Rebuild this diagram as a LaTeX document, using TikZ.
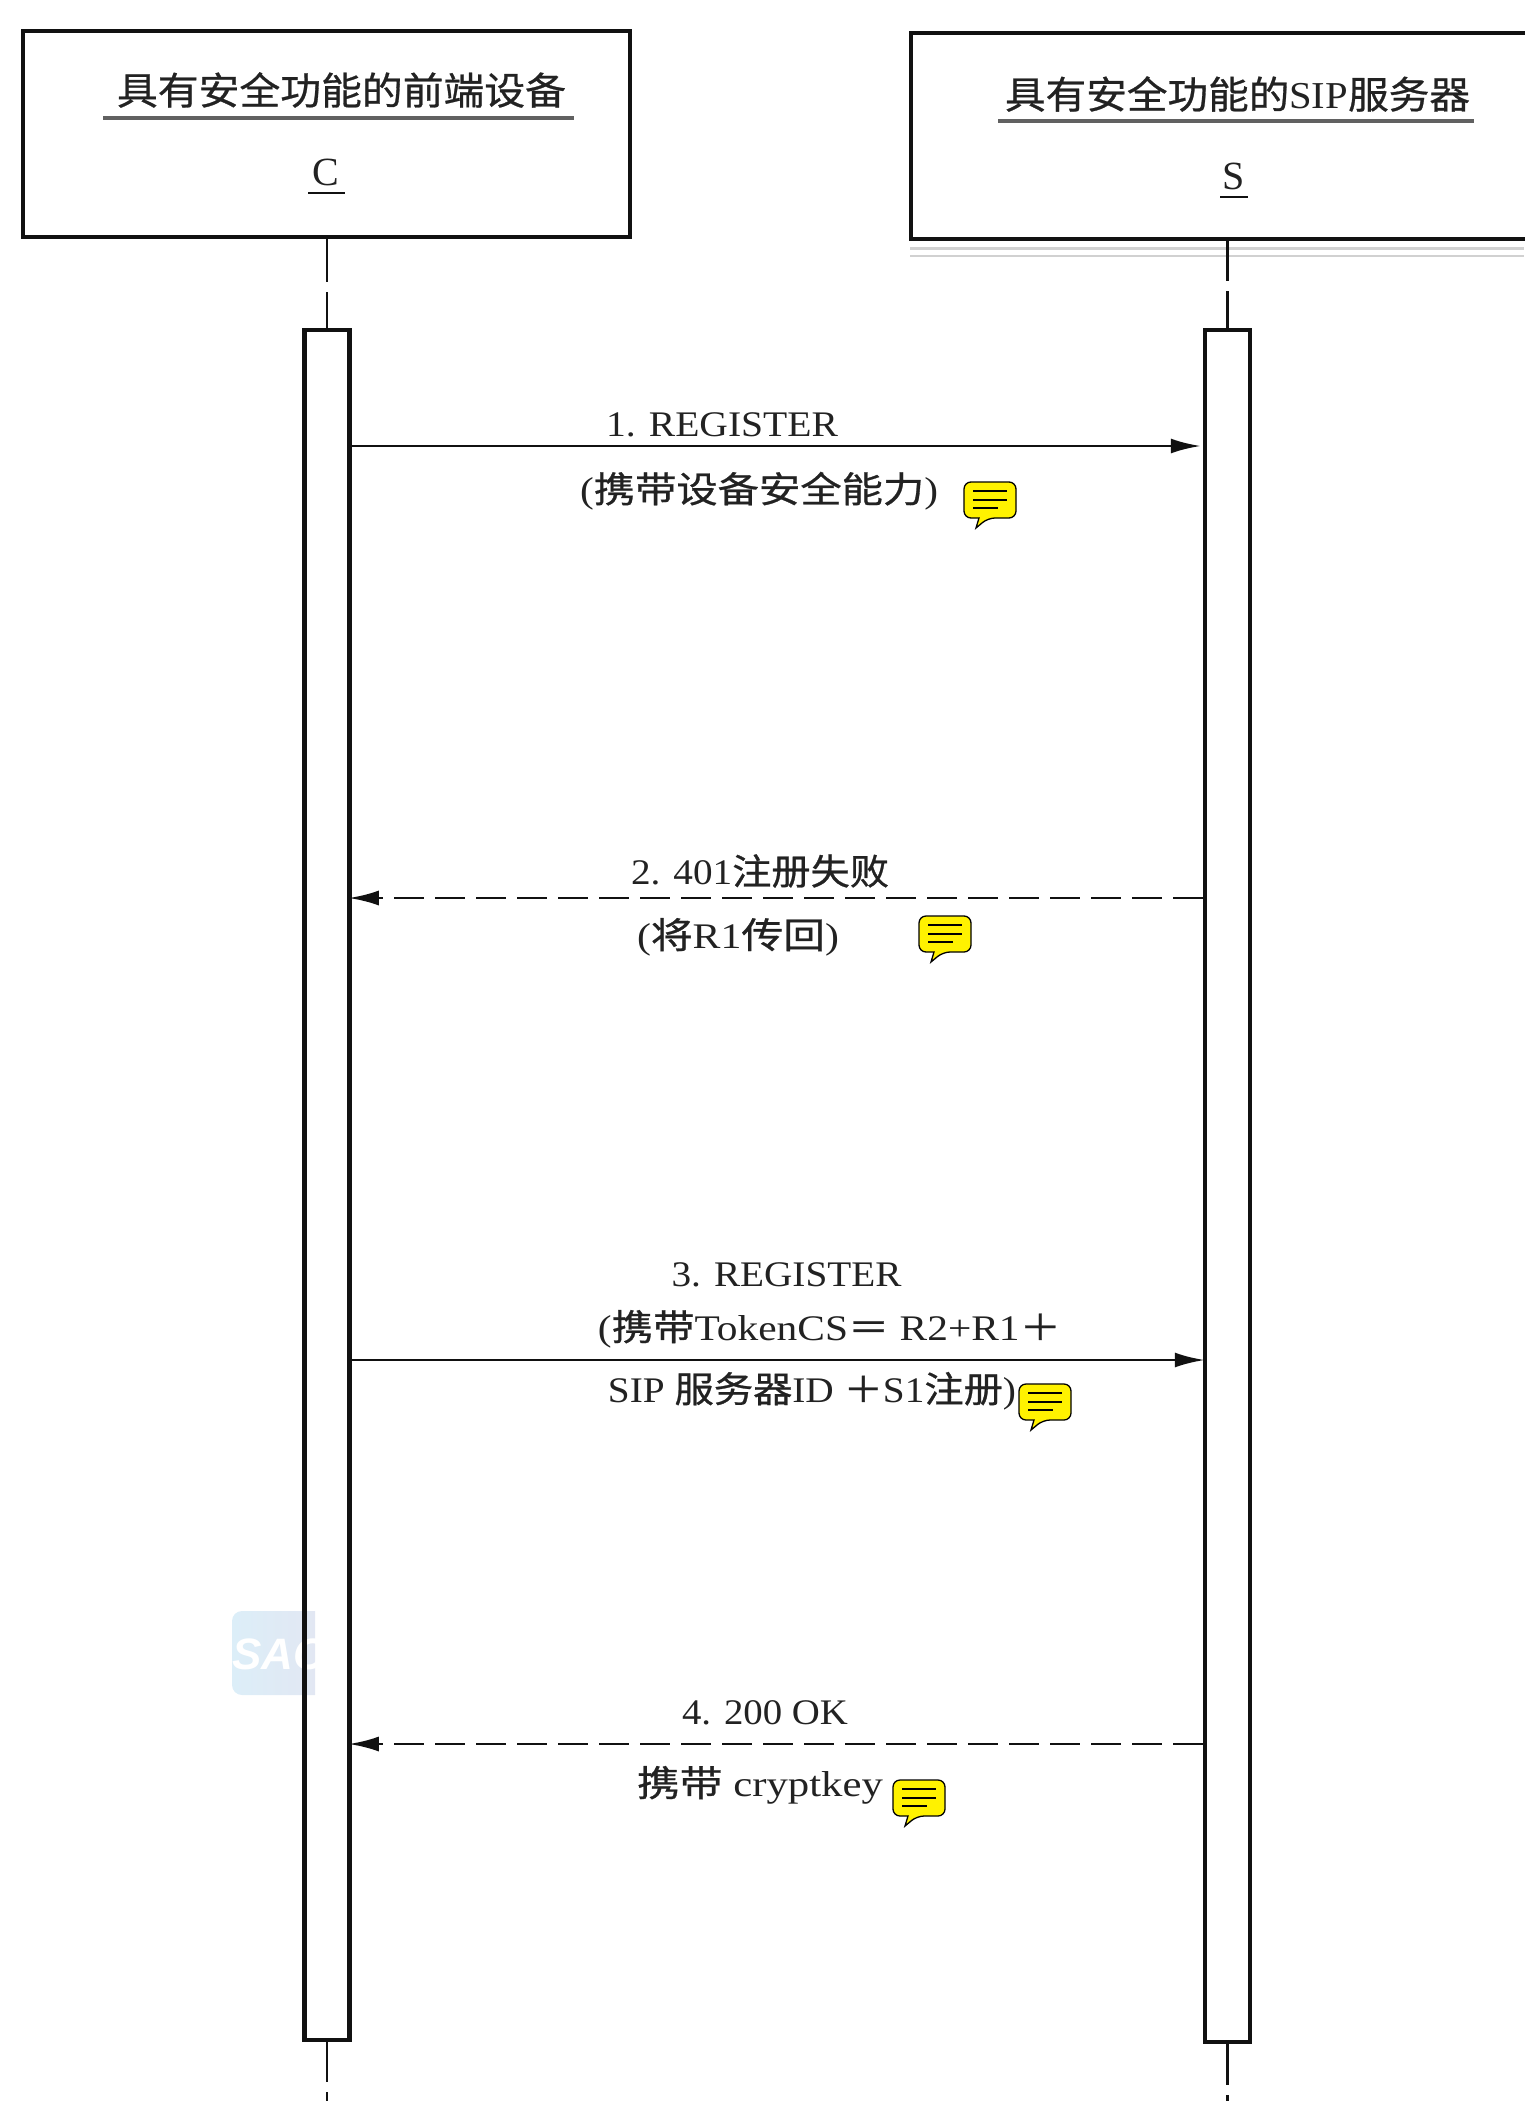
\documentclass[tikz,border=0pt]{standalone}
\usepackage{fontspec}
\usepackage{graphicx}
\usetikzlibrary{arrows.meta,calc,shapes.misc}
\setmainfont{Liberation Serif}
\newfontfamily\cjk[FakeBold=0.7]{Noto Sans CJK SC}
\newfontfamily\wm{Liberation Sans}
\newcommand{\Cn}[1]{{\cjk #1}}
\newcommand{\fitw}[2]{\resizebox{#1pt}{\height}{#2}}
\definecolor{ink}{HTML}{111111}
\definecolor{txt}{HTML}{222222}
\definecolor{wmA}{HTML}{DCEEF8}
\definecolor{wmB}{HTML}{E3E6F2}
\tikzset{
  actor/.style={draw=ink,line width=4.5pt,inner sep=0pt,rectangle},
  activation/.style={draw=ink,line width=4.5pt,inner sep=0pt,rectangle},
  lbl/.style={inner sep=0pt,text=txt,font=\fontsize{36}{40}\selectfont},
  titlelbl/.style={inner sep=0pt,text=txt,font=\fontsize{38}{42}\selectfont},
  lifeline/.style={draw=ink,line width=2.8pt},
  sync/.style={draw=ink,line width=2.8pt,-{Latex[length=30pt,width=15pt]}},
  reply/.style={draw=ink,line width=2.8pt,dash pattern=on 30pt off 11pt,-{Latex[length=30pt,width=15pt]}},
  rule/.style={draw=black!62,line width=4pt},
  thinrule/.style={draw=ink,line width=2.4pt},
  notebubble/.pic={
    \draw[fill=yellow,draw=black,line width=1.3pt,rounded corners=7pt]
      (0,18)--(0,0)--(52,0)--(52,36)--(24,36)[sharp corners]--(12,46)--(15,36)[rounded corners=7pt]--(0,36)--cycle;
    \draw[black,line width=1.2pt] (9,9)--(43,9) (9,18)--(43,18) (9,26)--(34,26);
  }
}
\begin{document}
\begin{tikzpicture}[x=1pt,y=-1pt]
\useasboundingbox (0,0) rectangle (1524,2101);
% watermark
\begin{scope}
  \clip (232,1611) rectangle (315,1695);
  \shade[left color=wmA,right color=wmB,rounded corners=10pt] (232,1695) -- (232,1611) -- (330,1611) -- (330,1695) -- cycle;
  \node[inner sep=0pt,anchor=west,text=white,font=\wm\bfseries\itshape\fontsize{44}{46}\selectfont] (wmark) at (232,1654) {SAC};
\end{scope}
% actors
\node[actor,minimum width=607pt,minimum height=206pt] (boxC) at (326.5,134) {};
\node[actor,minimum width=628pt,minimum height=206pt] (boxS) at (1225,136) {};
\draw[draw=black!18,line width=3pt] (910,248) -- (1524,248);
\draw[draw=black!18,line width=1.5pt] (910,256) -- (1524,256);
\node[titlelbl] (titleC) at (341.5,90) {\fitw{449}{\Cn{具有安全功能的前端设备}}};
\node[titlelbl] (titleS) at (1237.5,94) {\fitw{465}{\Cn{具有安全功能的}SIP\Cn{服务器}}};
\draw[rule] (103,118) -- (574,118);
\draw[rule] (998,121) -- (1474,121);
\node[lbl,font=\fontsize{40}{44}\selectfont] (nameC) at (326,172.5) {C};
\node[lbl,font=\fontsize{40}{44}\selectfont] (nameS) at (1234,176) {S};
\draw[thinrule] (308,193) -- (345,193);
\draw[thinrule] (1220,197) -- (1248,197);
% activations
\node[activation,minimum width=45pt,minimum height=1710pt] (actC) at (327,1185) {};
\node[activation,minimum width=45pt,minimum height=1712pt] (actS) at (1227.5,1186) {};
\coordinate (endC) at (327,2101);
\coordinate (endS) at (1227.5,2101);
\draw[lifeline,dash pattern=on 43pt off 10pt on 60pt] (boxC.south -| actC.north) -- (actC.north);
\draw[lifeline,dash pattern=on 40pt off 10pt on 60pt] (boxS.south -| actS.north) -- (actS.north);
\draw[lifeline,dash pattern=on 40pt off 10pt on 60pt] (actC.south) -- (endC);
\draw[lifeline,dash pattern=on 41pt off 10pt on 60pt] (actS.south) -- (endS);
% messages
\coordinate (m1) at (700,446);
\coordinate (m2) at (700,898);
\coordinate (m3) at (700,1360);
\coordinate (m4) at (700,1744);
\draw[sync,shorten >=2pt] (actC.east |- m1) -- (actS.west |- m1);
\draw[reply,shorten >=-3pt] (actS.west |- m2) -- (actC.east |- m2);
\draw[sync,shorten >=-2pt] (actC.east |- m3) -- (actS.west |- m3);
\draw[reply,shorten >=-3pt] (actS.west |- m4) -- (actC.east |- m4);
% labels
\node[lbl] (t1a) at (722,425) {\fitw{232}{1. REGISTER}};
\node[lbl] (t1b) at (759,491) {\fitw{358}{(\Cn{携带设备安全能力})}};
\node[lbl] (t2a) at (760,871) {\fitw{258}{2. 401\Cn{注册失败}}};
\node[lbl] (t2b) at (738,937) {\fitw{202}{(\Cn{将}R1\Cn{传回})}};
\node[lbl] (t3a) at (786.5,1275) {\fitw{230}{3. REGISTER}};
\node[lbl] (t3b) at (829.5,1329) {\fitw{463}{(\Cn{携带}TokenCS\Cn{＝} R2+R1\Cn{＋}}};
\node[lbl] (t3c) at (812,1391) {\fitw{408}{SIP \Cn{服务器}ID \Cn{＋}S1\Cn{注册})}};
\node[lbl] (t4a) at (765,1713) {\fitw{166}{4. 200 OK}};
\node[lbl] (t4b) at (760,1785) {\fitw{246}{\Cn{携带} cryptkey}};
% note icons
\pic (n1) at (964,482) {notebubble};
\pic (n2) at (919,916) {notebubble};
\pic (n3) at (1019,1384) {notebubble};
\pic (n4) at (893,1780) {notebubble};
\end{tikzpicture}
\end{document}
